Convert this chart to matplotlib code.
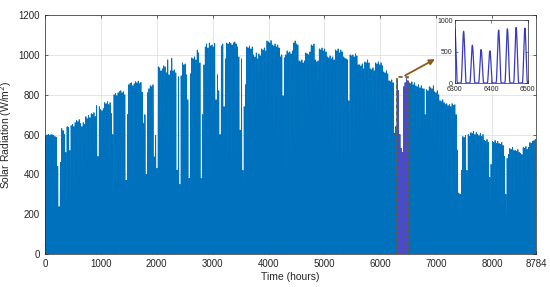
import numpy as np
import matplotlib
matplotlib.use("Agg")
import matplotlib.pyplot as plt
from matplotlib.patches import Rectangle

plt.rcParams['font.family'] = ['Liberation Sans', 'DejaVu Sans']

# Daily peak solar radiation (W/m^2), one value per day (366 days)
daily_peaks = [
    590, 598, 600, 596, 600, 598, 595, 590, 585, 440,
    238, 460,
    630, 620, 600,
    510,
    640, 635,
    520,
    645, 650, 640, 660,
    670, 665, 675,
    655, 640, 660, 650,
    690, 680, 695, 685,
    705, 700, 710, 690,
    745, 490, 740,
    725, 720, 730,
    760, 755, 765, 750, 760,
    705, 600,
    800, 806, 795, 810,
    815, 820, 810, 815, 800,
    370, 700,
    850, 857, 860, 845, 855,
    865, 860, 868, 855, 862,
    812, 657, 700,
    400, 810, 830,
    845, 840, 850,
    488, 595, 430,
    940, 935, 920, 930,
    945, 940,
    910, 975, 900, 920, 982,
    920, 925, 910, 421,
    890, 350, 895,
    960, 950, 955,
    900, 775, 380, 905,
    985, 980, 990, 975,
    1024, 1010,
    960, 380, 700, 950,
    1040, 1055, 1035, 1060, 1045, 1050, 1040, 1058,
    775, 900, 820,
    600, 1045, 1055,
    740, 980,
    1060, 1055, 1062, 1058, 1050, 1060, 1065, 1055, 1040,
    990, 622, 980, 420,
    740, 850,
    1040, 1035, 1045, 1030, 1040,
    1000, 990, 1010, 980, 1005, 995,
    1030, 1025, 1035, 1020,
    1070, 1065, 1060, 1072,
    1050, 1045, 1055, 1040, 1050, 1035,
    990, 1000, 795, 985,
    1000, 1020, 1010, 1015, 1005, 1020,
    1060, 1070, 1055, 1050,
    970, 965, 975, 960, 970,
    1010, 1005, 1000, 1015,
    1050, 1045, 1055,
    975, 965, 970,
    1030, 1025, 1035, 1020, 1030, 1015,
    990, 985, 995, 980, 990, 975,
    1025, 1020, 1030, 1010, 1025, 1015,
    990, 985, 980, 975,
    770, 1000, 995,
    1000, 990, 1005, 995, 950,
    950, 945, 955,
    930, 965, 960, 975, 960,
    930, 925, 935, 920,
    960, 955, 965, 950, 960, 945,
    915, 910, 920, 905,
    870, 865, 875, 860,
    607, 640,
    870, 820, 600, 530, 510, 840, 860, 880, 870,
    860, 855, 865, 850, 860,
    845, 840, 850, 835, 845, 830,
    830, 700, 825, 820,
    840, 835, 830, 845,
    815, 810, 820, 800,
    770, 765, 775, 760,
    750, 755, 745, 750, 740, 755, 745, 750,
    700,
    522,
    306, 300, 420,
    590, 585, 595,
    420, 600, 590,
    610, 605, 615, 600, 610,
    600, 595, 605, 590, 600,
    570, 565, 575, 560,
    385, 450,
    565, 560, 570, 555, 565,
    555, 550, 560, 545,
    490, 300, 480, 500,
    530, 525, 535, 520,
    520, 515, 525, 510,
    505, 500,
    535, 530, 540, 525, 535,
    560, 555, 565, 570, 575,
]

# Hourly shape within a day (fraction of the daily peak)
diurnal_shape = [0, 0, 0, 0, 0, 0, 0.05, 0.2, 0.4, 0.6, 0.8, 0.95,
                 1.0, 0.95, 0.8, 0.6, 0.4, 0.2, 0.05, 0, 0, 0, 0, 0]

x_ticks = [0, 1000, 2000, 3000, 4000, 5000, 6000, 7000, 8000, 8784]
y_ticks = [0, 200, 400, 600, 800, 1000, 1200]
zoom_window = [6300, 6500]
zoom_top = 890
inset_x_ticks = [6300, 6400, 6500]
inset_y_ticks = [0, 500, 1000]

radiation = np.outer(np.array(daily_peaks, float), np.array(diurnal_shape)).ravel()
hours = np.arange(radiation.size)

fig = plt.figure(figsize=(5.5, 2.87), dpi=100)
ax = fig.add_axes([0.0818, 0.115, 0.8927, 0.8327])

ax.plot(hours, radiation, color='#0072BD', lw=0.6, zorder=2)
sel = (hours >= zoom_window[0]) & (hours <= zoom_window[1])
ax.plot(hours[sel], radiation[sel], color='#4b4bc3', lw=0.6, zorder=3)

ax.set_xlim(0, 8784)
ax.set_ylim(0, 1200)
ax.set_xticks(x_ticks)
ax.set_yticks(y_ticks)
ax.grid(True, color='#dcdcdc', lw=0.5, zorder=0)
ax.set_axisbelow(True)
ax.tick_params(direction='in', length=2.5, width=0.5, labelsize=7, colors='#262626',
               top=True, right=True)
for s in ax.spines.values():
    s.set_linewidth(0.5)
    s.set_color('#262626')
ax.set_xlabel('Time (hours)', fontsize=7.5, color='#262626', labelpad=2)
ax.set_ylabel('Solar Radiation (W/m$^2$)', fontsize=7.5, color='#262626', labelpad=3)

rect = Rectangle((zoom_window[0], 0), zoom_window[1] - zoom_window[0], zoom_top,
                 fill=False, edgecolor='#6f5a22', lw=1.2, ls=(0, (2.5, 1.5)), zorder=4)
ax.add_patch(rect)
ax.annotate('', xy=(7020, 985), xytext=(6400, zoom_top),
            arrowprops=dict(arrowstyle='-|>', color='#8B5A1A', lw=1.3,
                            mutation_scale=8), zorder=5)

ins = fig.add_axes([0.827, 0.7108, 0.1327, 0.2195])
ins.plot(hours[sel], radiation[sel], color='#3a3ac0', lw=0.9)
ins.set_xlim(zoom_window)
ins.set_ylim(0, 1000)
ins.set_xticks(inset_x_ticks)
ins.set_yticks(inset_y_ticks)
ins.tick_params(direction='in', length=2, width=0.4, labelsize=5, colors='#262626',
                top=True, right=True)
ins.tick_params(axis='x', pad=2.5)
ins.tick_params(axis='y', pad=1.5)
for s in ins.spines.values():
    s.set_linewidth(0.5)
    s.set_color('#262626')

fig.savefig('out.png', dpi=100)
